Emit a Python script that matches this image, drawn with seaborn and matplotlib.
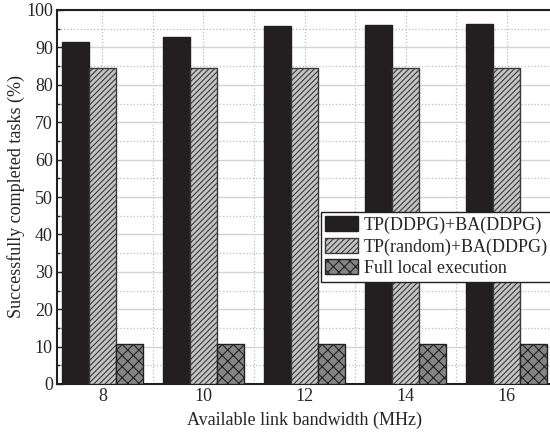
import numpy as np
import pandas as pd
import matplotlib
matplotlib.use('Agg')
import matplotlib.pyplot as plt
import seaborn as sns
from matplotlib.patches import Patch
from matplotlib.ticker import MultipleLocator

bandwidth = [8, 10, 12, 14, 16]
methods = ['TP(DDPG)+BA(DDPG)', 'TP(random)+BA(DDPG)', 'Full local execution']
ddpg_ddpg = [91.4, 92.8, 95.7, 96.0, 96.3]
random_ddpg = [84.5, 84.4, 84.5, 84.5, 84.6]
local_exec = [10.6, 10.6, 10.6, 10.6, 10.6]

df = pd.DataFrame({
    'bw': bandwidth * 3,
    'val': ddpg_ddpg + random_ddpg + local_exec,
    'method': [methods[0]] * 5 + [methods[1]] * 5 + [methods[2]] * 5,
})

sns.set_style('white')
plt.rcParams['font.family'] = ['Liberation Serif', 'DejaVu Serif']
plt.rcParams['hatch.linewidth'] = 0.8

fills = ['#231f20', '#c4c4c4', '#858585']
edges = ['#231f20', '#3a3a3a', '#222222']
hatches = ['', '//////', 'xxx']

fig = plt.figure(figsize=(5.5, 4.32), dpi=100)
ax = fig.add_axes([57 / 550, 48 / 432, 495 / 550, 374 / 432])

sns.barplot(data=df, x='bw', y='val', hue='method', hue_order=methods,
            native_scale=True, dodge=True, width=0.8, palette=fills,
            saturation=1, errorbar=None, legend=False, ax=ax, zorder=3)

for i, cont in enumerate(ax.containers):
    for p in cont:
        p.set_facecolor(fills[i])
        p.set_edgecolor(edges[i])
        p.set_hatch(hatches[i])
        p.set_linewidth(1.0)

ax.set_xlim(7.1, 16.9)
ax.set_ylim(0, 100)
ax.set_xticks(bandwidth)
ax.set_xticklabels([str(b) for b in bandwidth])
ax.xaxis.set_minor_locator(MultipleLocator(1))
ax.yaxis.set_major_locator(MultipleLocator(10))
ax.yaxis.set_minor_locator(MultipleLocator(5))

ax.grid(axis='y', which='major', color='#d4d4d4', linestyle='-', linewidth=1.0, zorder=0)
ax.grid(axis='y', which='minor', color='#bdbdbd', linestyle=':', linewidth=0.9, zorder=0)
ax.grid(axis='x', which='both', color='#bdbdbd', linestyle=':', linewidth=0.9, zorder=0)
ax.set_axisbelow(True)

ax.tick_params(axis='y', which='major', direction='in', length=4, width=1, labelsize=13, left=True, pad=3)
ax.tick_params(axis='y', which='minor', direction='in', length=2, width=1, left=True)
ax.tick_params(axis='x', which='both', length=0, labelsize=13, pad=3)

for s in ['left', 'bottom', 'top']:
    ax.spines[s].set_color('#231f20')
    ax.spines[s].set_linewidth(1.5)
ax.spines['right'].set_visible(False)

ax.set_xlabel('Available link bandwidth (MHz)', fontsize=13, labelpad=5)
ax.set_ylabel('Successfully completed tasks (%)', fontsize=13, labelpad=1)

handles = [Patch(facecolor=fills[i], edgecolor=edges[i], hatch=hatches[i], linewidth=1.0)
           for i in range(3)]
leg = ax.legend(handles, methods, loc='upper left', bbox_to_anchor=(0.533, 0.46),
                fontsize=13, frameon=True, fancybox=False, edgecolor='#231f20',
                framealpha=1, borderpad=0.25, labelspacing=0.2, handlelength=1.8,
                handleheight=0.9, handletextpad=0.35, borderaxespad=0)
leg.get_frame().set_linewidth(1.0)
leg.set_zorder(5)

fig.savefig('out.png', dpi=100)
